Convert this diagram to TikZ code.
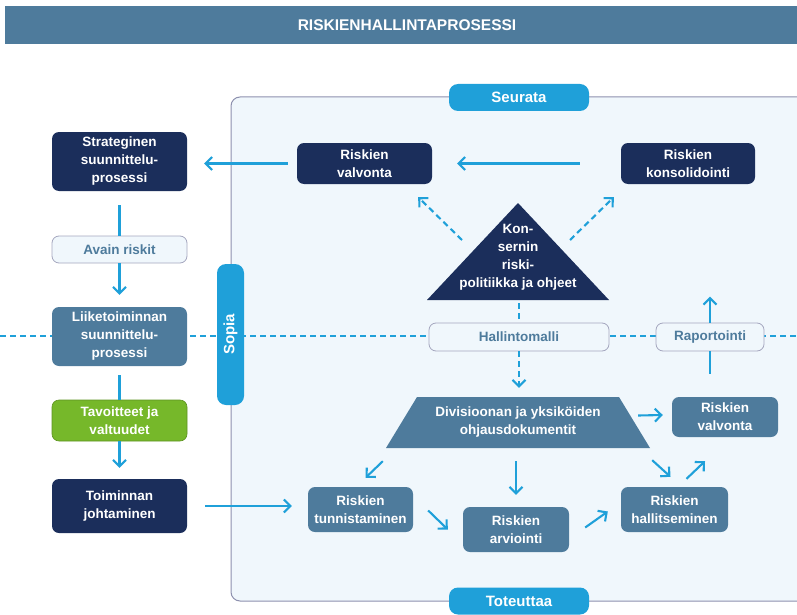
\documentclass[tikz,border=0pt]{standalone}
\usepackage{fontspec}
\setmainfont{Liberation Sans}
\usetikzlibrary{arrows.meta}
\definecolor{navy}{HTML}{1B2E5B}
\definecolor{steel}{HTML}{4E7B9C}
\definecolor{sky}{HTML}{1FA0D9}
\definecolor{leaf}{HTML}{76B82A}
\definecolor{pale}{HTML}{F0F7FC}
\definecolor{rim}{HTML}{8D90AE}
\tikzset{
  box/.style={rounded corners=7pt, align=center, text=white, inner sep=0pt,
    font=\fontsize{13.5}{18}\selectfont\bfseries},
  navybox/.style={box, fill=navy},
  steelbox/.style={box, fill=steel},
  greenbox/.style={box, fill=leaf, draw=leaf!80!black, line width=0.6pt},
  lightbox/.style={box, fill=pale, draw=rim!80, line width=0.8pt, text=steel},
  pill/.style={box, rounded corners=9pt, fill=sky, font=\fontsize{15}{18}\selectfont\bfseries},
  conn/.style={draw=sky, line width=2.1pt},
  arr/.style={conn, -{Straight Barb[length=6.5pt,width=13pt]}},
  dashline/.style={conn, dash pattern=on 6pt off 4pt},
  darr/.style={dashline, -{Straight Barb[length=6.5pt,width=13pt]}},
}
\begin{document}
\begin{tikzpicture}[x=1pt,y=-1pt]
\useasboundingbox (0,0) rectangle (797,615);
\clip (0,0) rectangle (797,615);
\fill[steel] (5,6) rectangle (797,44);
\node[text=white, font=\fontsize{15.5}{18}\selectfont\bfseries] (title) at (407,25) {RISKIENHALLINTAPROSESSI};
\draw[rim, fill=pale, line width=1pt, rounded corners=9pt] (231,97) rectangle (830,601);
\draw[dashline] (0,336) -- (797,336);

\node[navybox, minimum width=135pt, minimum height=59pt] (strat) at (119.5,161.5) {Strateginen\\suunnittelu-\\prosessi};
\node[lightbox, minimum width=135pt, minimum height=27pt] (avain) at (119.5,249.5) {Avain riskit};
\node[steelbox, minimum width=135pt, minimum height=59pt] (liike) at (119.5,336.5) {Liiketoiminnan\\suunnittelu-\\prosessi};
\node[greenbox, minimum width=135pt, minimum height=41pt] (tavoit) at (119.5,420.5) {Tavoitteet ja\\valtuudet};
\node[navybox, minimum width=135pt, minimum height=54pt] (toimin) at (119.5,506) {Toiminnan\\johtaminen};

\node[pill, rotate=90, minimum width=141pt, minimum height=27pt] (sopia) at (230.5,334.5) {Sopia};
\node[pill, minimum width=140pt, minimum height=27pt] (seurata) at (519,97.5) {Seurata};
\node[pill, minimum width=140pt, minimum height=27pt] (toteuttaa) at (519,601) {Toteuttaa};

\node[navybox, minimum width=135pt, minimum height=41pt] (valv1) at (364.5,163.5) {Riskien\\valvonta};
\node[navybox, minimum width=134pt, minimum height=41pt] (kons) at (688,163.5) {Riskien\\konsolidointi};

\coordinate (apex) at (518,203);
\coordinate (base) at (518,300);
\fill[navy] (apex) -- (609,300) -- (427,300) -- cycle;
\node[box] (polit) at (518,257) {Kon-\\sernin\\riski-\\politiikka ja ohjeet};

\node[lightbox, minimum width=180pt, minimum height=28pt] (hall) at (519,337) {Hallintomalli};
\node[lightbox, minimum width=108pt, minimum height=28pt] (rap) at (710,337) {Raportointi};

\fill[steel] (386,448) -- (650,448) -- (619,397) -- (417,397) -- cycle;
\node[box, minimum width=264pt, minimum height=51pt] (divi) at (518,422.5) {Divisioonan ja yksiköiden\\ohjausdokumentit};

\node[steelbox, minimum width=106pt, minimum height=40pt] (valv2) at (725,417) {Riskien\\valvonta};
\node[steelbox, minimum width=105pt, minimum height=45pt] (tunn) at (360.5,509.5) {Riskien\\tunnistaminen};
\node[steelbox, minimum width=106pt, minimum height=45pt] (arv) at (516,529.5) {Riskien\\arviointi};
\node[steelbox, minimum width=107pt, minimum height=45pt] (hallit) at (674.5,509.5) {Riskien\\hallitseminen};

\draw[conn, shorten <=14pt] (strat.south) -- (avain.north);
\draw[arr, shorten >=12pt] (avain.south) -- (liike.north);
\draw[conn, shorten <=9pt] (liike.south) -- (tavoit.north);
\draw[arr, shorten >=11pt] (tavoit.south) -- (toimin.north);
\draw[arr, shorten <=9pt, shorten >=17pt] (valv1.west) -- (valv1.west -| strat.east);
\draw[arr, shorten <=41pt, shorten >=25pt] (kons.west) -- (valv1.east);
\draw[arr, shorten <=18pt, shorten >=16pt] (toimin.east) -- (toimin.east -| tunn.west);

\draw[darr] ([shift={(-56,37)}]apex) -- ([shift={(-14,13)}]valv1.south east);
\draw[darr] ([shift={(52,37)}]apex) -- ([shift={(-7,13)}]kons.south west);
\draw[dashline, shorten <=3pt] (hall.north |- base) -- (hall.north);
\draw[darr, shorten >=9pt] (hall.south) -- (hall.south |- divi.north);

\coordinate (rap-up) at ([shift={(0,-26)}]rap.north);
\draw[conn, shorten <=23pt] (rap.south |- valv2.north) -- (rap.south);
\draw[arr] (rap.north) -- (rap-up);

\draw[arr] ([shift={(-3,13)}]divi.south west) -- ([shift={(5,-9)}]tunn.north);
\draw[arr, shorten <=13pt, shorten >=12pt] (divi.south -| arv.north) -- (arv.north);
\draw[arr] ([shift={(-12,-7)}]divi.east) -- ([shift={(-9,-2)}]valv2.west);
\draw[arr] ([shift={(2,12)}]divi.south east) -- ([shift={(-4,-10)}]hallit.north);
\draw[arr] ([shift={(12,-8)}]hallit.north) -- ([shift={(-20,24)}]valv2.south);
\draw[arr] ([shift={(15,1)}]tunn.east) -- ([shift={(-15,0)}]arv.west);
\draw[arr] ([shift={(16,-2)}]arv.east) -- ([shift={(-13,2)}]hallit.west);
\end{tikzpicture}
\end{document}
